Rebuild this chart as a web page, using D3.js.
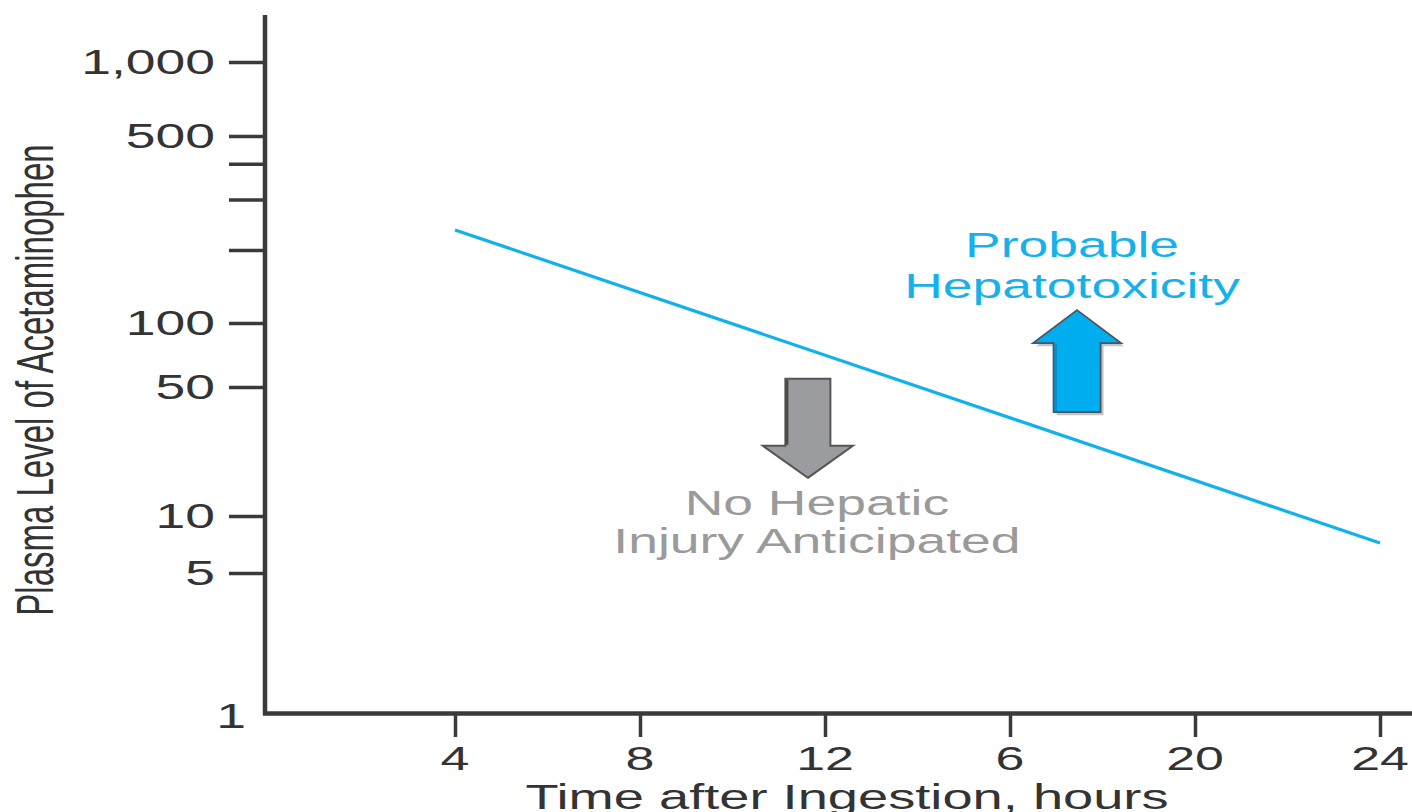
<!DOCTYPE html>
<html>
<head>
<meta charset="utf-8">
<script src="https://cdn.jsdelivr.net/npm/d3@7"></script>
<style>
  body { margin: 0; background: #fff; }
  text { font-family: "Liberation Sans", Arial, sans-serif; }
</style>
</head>
<body>
<div id="vis"></div>
<script>
const FRAME_WIDTH = 1412;
const FRAME_HEIGHT = 812;
const STRETCH = 1.55; // the original figure is stretched sideways

// data
const hours = [4, 24];
const threshold = [235, 7.2];
const xTicks = [4, 8, 12, 16, 20, 24];
const xTickLabels = ["4", "8", "12", "6", "20", "24"];
const yTicks = [5, 10, 50, 100, 200, 300, 400, 500, 1000];
const yTickLabels = {1: "1", 5: "5", 10: "10", 50: "50", 100: "100", 500: "500", 1000: "1,000"};

const FRAME = d3.select("#vis")
  .append("svg")
    .attr("width", FRAME_WIDTH)
    .attr("height", FRAME_HEIGHT);

// scales (the y axis of the figure is a log axis with uneven decades)
const X_SCALE = d3.scaleLinear()
  .domain([0, 24])
  .range([270, 1380]);

const Y_SCALE = d3.scaleLog()
  .domain([1, 5, 10, 50, 100, 200, 500, 1000])
  .range([713, 573, 516, 387, 323, 250, 136, 62]);

const AXIS_COLOR = "#3a3a3a";

// y ticks
FRAME.append("g")
  .attr("transform", "translate(265,0)")
  .call(d3.axisLeft(Y_SCALE).tickValues(yTicks).tickSize(36).tickFormat(""))
  .call(g => g.select(".domain").remove())
  .call(g => g.selectAll("line").attr("stroke", AXIS_COLOR).attr("stroke-width", 3.5));

// x ticks
FRAME.append("g")
  .attr("transform", "translate(0,715)")
  .call(d3.axisBottom(X_SCALE).tickValues(xTicks).tickSize(22).tickFormat(""))
  .call(g => g.select(".domain").remove())
  .call(g => g.selectAll("line").attr("stroke", AXIS_COLOR).attr("stroke-width", 3.5));

// axis lines
FRAME.append("line")
  .attr("x1", 265).attr("x2", 265).attr("y1", 15).attr("y2", 715)
  .attr("stroke", AXIS_COLOR).attr("stroke-width", 4.5);
FRAME.append("line")
  .attr("x1", 263).attr("x2", FRAME_WIDTH).attr("y1", 713.5).attr("y2", 713.5)
  .attr("stroke", AXIS_COLOR).attr("stroke-width", 4.5);

// y tick labels
Object.keys(yTickLabels).forEach(k => {
  const v = +k;
  const isOne = v === 1;
  FRAME.append("text")
    .attr("transform", "translate(" + (isOne ? 246 : 215) + "," + (Y_SCALE(v) + (isOne ? 15 : 12)) + ") scale(" + STRETCH + ",1)")
    .attr("text-anchor", "end")
    .attr("font-size", 34.5)
    .attr("fill", "#333")
    .text(yTickLabels[k]);
});

// x tick labels
xTicks.forEach((t, i) => {
  FRAME.append("text")
    .attr("transform", "translate(" + X_SCALE(t) + ",770) scale(" + STRETCH + ",1)")
    .attr("text-anchor", "middle")
    .attr("font-size", 33.5)
    .attr("fill", "#333")
    .text(xTickLabels[i]);
});

// axis titles
FRAME.append("text")
  .attr("transform", "translate(847,809) scale(" + STRETCH + ",1)")
  .attr("text-anchor", "middle")
  .attr("font-size", 35)
  .attr("fill", "#333")
  .text("Time after Ingestion, hours");

FRAME.append("text")
  .attr("transform", "translate(53,380) scale(" + STRETCH + ",1) rotate(-90)")
  .attr("text-anchor", "middle")
  .attr("font-size", 33)
  .attr("fill", "#333")
  .text("Plasma Level of Acetaminophen");

// threshold line
const line = d3.line()
  .x(d => X_SCALE(d[0]))
  .y(d => Y_SCALE(d[1]));

FRAME.append("path")
  .datum(hours.map((h, i) => [h, threshold[i]]))
  .attr("d", line)
  .attr("fill", "none")
  .attr("stroke", "#12b1ee")
  .attr("stroke-width", 3.2);

// block arrow, tip at 0,0 ; dir = -1 points up, 1 points down
function arrowPath(dir, shaftW, headW, headH, len) {
  const s = -dir;
  const p = d3.path();
  p.moveTo(0, 0);
  p.lineTo(headW, s * headH);
  p.lineTo(shaftW, s * headH);
  p.lineTo(shaftW, s * len);
  p.lineTo(-shaftW, s * len);
  p.lineTo(-shaftW, s * headH);
  p.lineTo(-headW, s * headH);
  p.closePath();
  return p.toString();
}

// up arrow (probable hepatotoxicity)
const upX = X_SCALE(17.45), upY = Y_SCALE(113);
const up = FRAME.append("g").attr("transform", "translate(" + upX + "," + upY + ")");
up.append("path")
  .attr("d", arrowPath(-1, 23.5, 44, 33, 102))
  .attr("transform", "translate(3,3)")
  .attr("fill", "#c4c4c4");
up.append("path")
  .attr("d", arrowPath(-1, 23.5, 44, 33, 102))
  .attr("fill", "#00aeef")
  .attr("stroke", "#4a5560")
  .attr("stroke-width", 1.8);
up.append("line")
  .attr("x1", -21.5).attr("x2", -21.5).attr("y1", 34).attr("y2", 101)
  .attr("stroke", "#0a8cc4").attr("stroke-width", 3);

// down arrow (no hepatic injury)
const dnX = X_SCALE(11.63), dnY = Y_SCALE(16.1);
const dn = FRAME.append("g").attr("transform", "translate(" + dnX + "," + dnY + ")");
dn.append("path")
  .attr("d", arrowPath(1, 22.5, 45, 32, 99))
  .attr("fill", "#9b9ca0")
  .attr("stroke", "#555")
  .attr("stroke-width", 2);
dn.append("line")
  .attr("x1", -21).attr("x2", -21).attr("y1", -33).attr("y2", -98)
  .attr("stroke", "#4a4a4a").attr("stroke-width", 3);

// region labels
const upLines = ["Probable", "Hepatotoxicity"];
upLines.forEach((t, i) => {
  FRAME.append("text")
    .attr("transform", "translate(" + (upX - 5) + "," + (upY - 53 + i * 41) + ") scale(" + STRETCH + ",1)")
    .attr("text-anchor", "middle")
    .attr("font-size", 34.5)
    .attr("fill", "#16b1ec")
    .text(t);
});

const dnLines = ["No Hepatic", "Injury Anticipated"];
dnLines.forEach((t, i) => {
  FRAME.append("text")
    .attr("transform", "translate(" + (dnX + 9) + "," + (dnY + 37 + i * 38) + ") scale(" + STRETCH + ",1)")
    .attr("text-anchor", "middle")
    .attr("font-size", 34.5)
    .attr("fill", "#9a9a9a")
    .text(t);
});
</script>
</body>
</html>
